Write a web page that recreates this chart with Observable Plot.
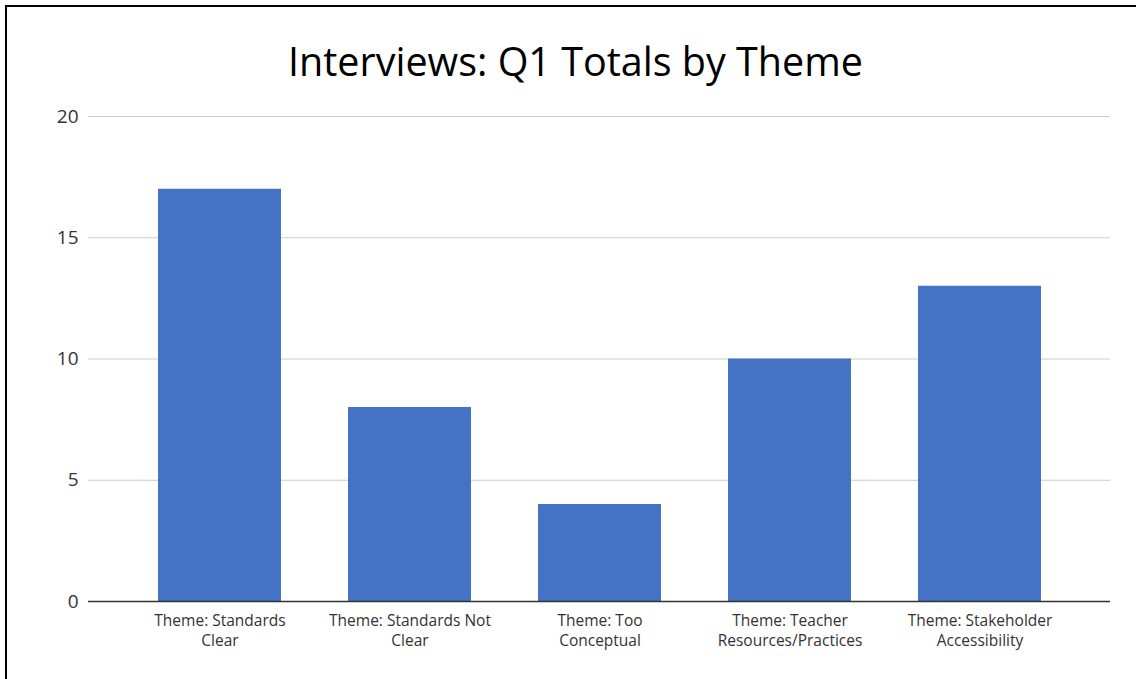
<!DOCTYPE html>
<html>
<head>
<meta charset="utf-8">
<script src="https://cdn.jsdelivr.net/npm/d3@7"></script>
<script src="https://cdn.jsdelivr.net/npm/@observablehq/plot@0.6"></script>
<style>
  body { margin: 0; background: #fff; width: 1136px; height: 679px; overflow: hidden; position: relative; font-family: "Open Sans", sans-serif; }
  #frame { position: absolute; left: 5px; top: 5px; width: 1140px; height: 690px; border-top: 2px solid #000; border-left: 2px solid #000; z-index: 2; pointer-events: none; }
  #title { position: absolute; left: 0; top: 34px; width: 1151px; text-align: center; font-size: 39.5px; color: #000; }
  #chart { position: absolute; left: 0; top: 100px; }
</style>
</head>
<body>
<div id="frame"></div>
<div id="title">Interviews: Q1 Totals by Theme</div>
<div id="chart"></div>
<script>
const categories = ["Standards Clear", "Standards Not Clear", "Too Conceptual", "Teacher Resources/Practices", "Stakeholder Accessibility"];
const values = [17, 8, 4, 10, 13];
const tickLabels = ["Theme: Standards\nClear", "Theme: Standards Not\nClear", "Theme: Too\nConceptual", "Theme: Teacher\nResources/Practices", "Theme: Stakeholder\nAccessibility"];
const yTicks = [0, 5, 10, 15, 20];

const data = categories.map((c, i) => ({category: c, value: values[i]}));

const chart = Plot.plot({
  width: 1136,
  height: 579,
  marginLeft: 88,
  marginRight: 26,
  marginTop: 16,
  marginBottom: 78,
  style: {fontFamily: "Open Sans, sans-serif", color: "#333", background: "transparent"},
  x: {domain: categories, padding: 0.355, label: null},
  y: {domain: [0, 20], label: null},
  marks: [
    Plot.ruleY(yTicks.filter(d => d !== 0), {stroke: "#ccc", strokeWidth: 1}),
    Plot.barY(data, {x: "category", y: "value", fill: "#4472C4"}),
    Plot.ruleY([0], {stroke: "#333", strokeWidth: 1.5}),
    Plot.axisY({ticks: yTicks, tickSize: 0, tickPadding: 10, fontSize: 19, label: null, fill: "#333"}),
    Plot.axisX({tickSize: 0, tickPadding: 10, fontSize: 15.5, lineHeight: 1.3, label: null, fill: "#333",
      tickFormat: d => tickLabels[categories.indexOf(d)]})
  ]
});
document.getElementById("chart").appendChild(chart);
</script>
</body>
</html>
